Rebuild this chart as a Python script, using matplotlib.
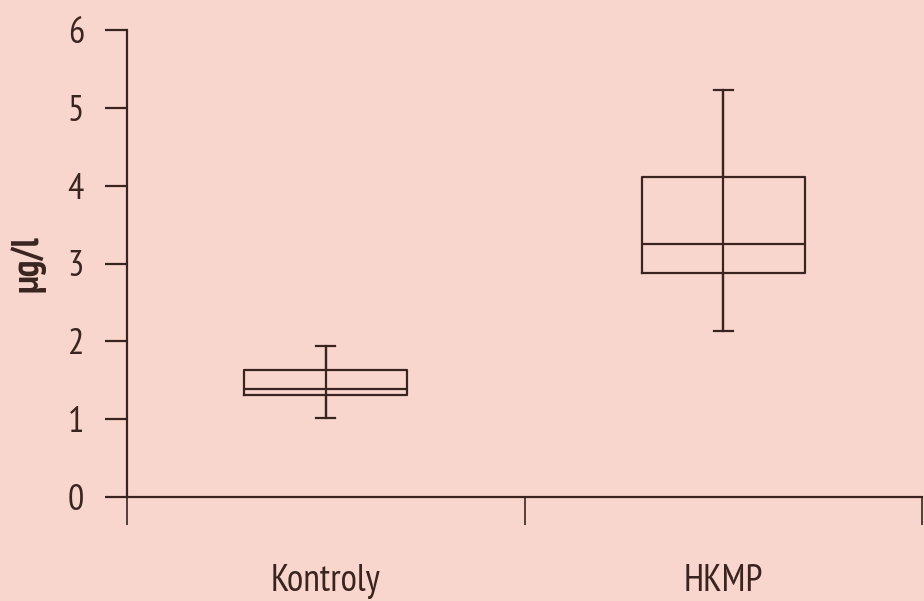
import matplotlib
matplotlib.use("Agg")
import matplotlib.pyplot as plt
from matplotlib import font_manager

# groups and their box-plot statistics (µg/l)
groups = ["Kontroly", "HKMP"]
whisker_low = [1.02, 2.13]
q1 = [1.31, 2.88]
median = [1.39, 3.25]
q3 = [1.63, 4.11]
whisker_high = [1.94, 5.23]
yticks = [0, 1, 2, 3, 4, 5, 6]

bg = "#f9d6cd"
ink = "#3a2420"

# narrow sans face, first one that is installed
installed = {f.name for f in font_manager.fontManager.ttflist}
family = "DejaVu Sans"
for name in ["PT Sans Narrow", "Fira Sans Condensed", "Roboto Condensed",
             "Asap Condensed", "Archivo Narrow"]:
    if name in installed:
        family = name
        break
plt.rcParams["font.family"] = [family, "DejaVu Sans"]

fig = plt.figure(figsize=(9.24, 6.01), dpi=100, facecolor=bg)
ax = fig.add_axes([127 / 924, 104 / 601, 795 / 924, 467 / 601], facecolor=bg)

positions = [0.5 + i for i in range(len(groups))]
stats = []
for i, g in enumerate(groups):
    stats.append({"label": g, "whislo": whisker_low[i], "q1": q1[i], "med": median[i],
                  "q3": q3[i], "whishi": whisker_high[i], "fliers": []})

lw = 1.6
ax.bxp(stats, positions=positions, widths=0.41, showfliers=False, capwidths=0.048,
       boxprops=dict(color=ink, linewidth=lw),
       medianprops=dict(color=ink, linewidth=lw),
       whiskerprops=dict(color=ink, linewidth=lw),
       capprops=dict(color=ink, linewidth=lw))
# the whisker line runs through the box
ax.vlines(positions, whisker_low, whisker_high, color=ink, linewidth=lw)

ax.set_xlim(0, 2)
ax.set_ylim(0, 6)
ax.set_yticks(yticks)
ax.set_yticklabels([str(t) for t in yticks])
ax.set_xticks([0, 1, 2])
ax.set_xticklabels([])
ax.set_xticks(positions, minor=True)
ax.set_xticklabels(groups, minor=True)

ax.spines["top"].set_visible(False)
ax.spines["right"].set_visible(False)
for s in ("left", "bottom"):
    ax.spines[s].set_color(ink)
    ax.spines[s].set_linewidth(lw)
ax.spines["bottom"].set_zorder(0)

ax.tick_params(axis="y", direction="out", length=16, width=lw, color=ink,
               labelcolor=ink, labelsize=26, pad=15)
ax.tick_params(axis="x", which="major", direction="out", length=20, width=1.2, color=ink)
ax.tick_params(axis="x", which="minor", length=0, labelcolor=ink, labelsize=27, pad=48)

ax.set_ylabel("µg/l", color=ink, fontsize=27, fontweight="bold", labelpad=16)

fig.savefig("out.png", dpi=100, facecolor=bg)
